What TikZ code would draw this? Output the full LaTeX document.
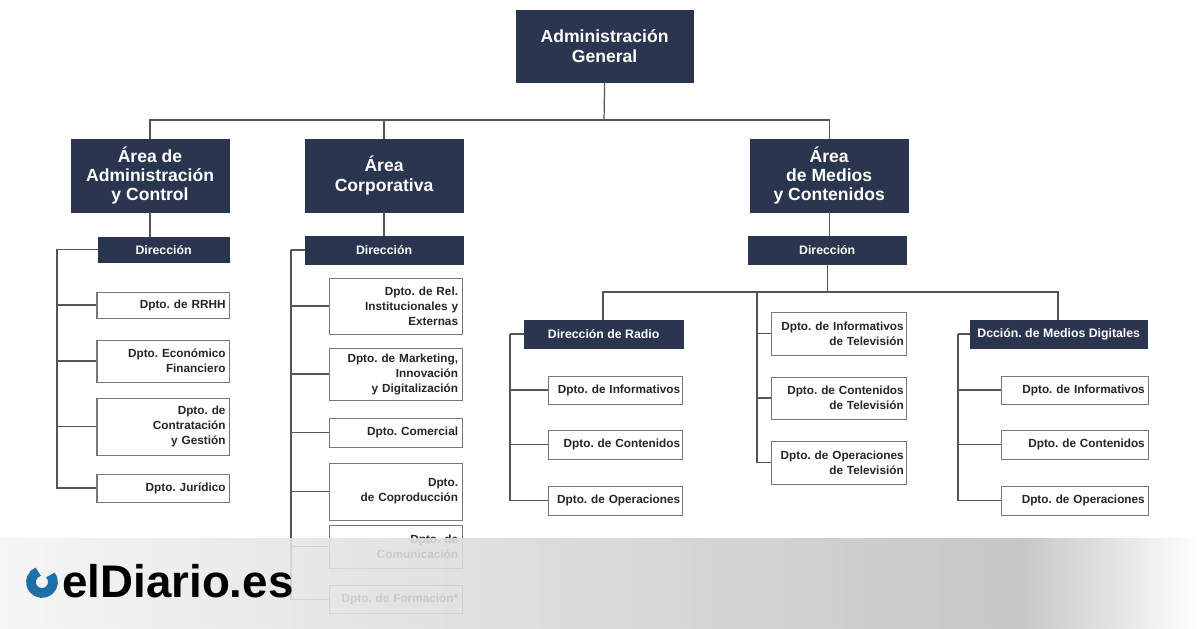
\documentclass[tikz,border=0pt]{standalone}
\usepackage{fontspec}
\setmainfont{Liberation Sans}
\usetikzlibrary{positioning}
\definecolor{navy}{HTML}{2A3650}
\definecolor{linec}{HTML}{555555}
\definecolor{blueo}{HTML}{1E6FA8}
\tikzset{
  darkbox/.style={draw=navy, fill=navy, text=white, font=\bfseries\fontsize{10}{11}\selectfont, align=center, inner sep=0pt},
  dirbox/.style={darkbox, font=\bfseries\fontsize{7}{8}\selectfont},
  deptbox/.style={draw=linec!80, line width=0.6pt, fill=white, text=black!85, font=\bfseries\fontsize{6.7}{8.5}\selectfont, align=right, inner sep=0pt, text width=#1},
  deptbox/.default=2.4cm,
  link/.style={draw=linec, line width=0.7pt}
}
\frenchspacing
\hyphenpenalty=10000
\newcommand{\boxat}[7]{% name style x1 y1 x2 y2 text
  \node[#2, minimum width={(#5-#3)*0.02cm}, minimum height={(#6-#4)*0.02cm}] (#1) at ({(#3+#5)/2*0.02},{-(#4+#6)/2*0.02}) {#7};}
\begin{document}
\begin{tikzpicture}
\useasboundingbox (0,0) rectangle (24,-12.56);
\fill[white] (0,0) rectangle (24,-12.56);

% top levels
\boxat{gen}{darkbox}{516}{10}{693}{82}{Administración\\General}
\boxat{adm}{darkbox}{71}{139}{229}{212}{Área de\\Administración\\y Control}
\boxat{corp}{darkbox}{305}{139}{463}{212}{Área\\Corporativa}
\boxat{med}{darkbox}{750}{139}{908}{212}{Área\\de Medios\\y Contenidos}
\coordinate (bus) at (12.08,-2.4);
\draw[link] (gen.south) -- (bus);
\draw[link] (adm.north) |- (bus) -| (med.north);
\draw[link] (corp.north) -- (corp.north |- bus);

% direcciones
\boxat{dadm}{dirbox}{98}{237}{229}{262}{Dirección}
\boxat{dcorp}{dirbox}{305}{236}{463}{264}{Dirección}
\boxat{dmed}{dirbox}{748}{236}{906}{264}{Dirección}
\draw[link] (adm.south) -- (adm.south |- dadm.north);
\draw[link] (corp.south) -- (dcorp.north);
\draw[link] (med.south) -- (med.south |- dmed.north);

% area de administracion
\boxat{rrhh}{deptbox=2.5cm}{97}{292}{229}{318}{Dpto. de RRHH}
\boxat{econ}{deptbox=2.5cm}{97}{340}{229}{382}{Dpto. Económico\\Financiero}
\boxat{contr}{deptbox=2.5cm}{97}{398}{229}{455}{Dpto. de\\Contratación\\y Gestión}
\boxat{jur}{deptbox=2.5cm}{97}{474}{229}{502}{Dpto. Jurídico}
\coordinate (ladm) at (1.14,-5);
\draw[link] (dadm.west) -| (ladm) -- (ladm |- jur.west) -- (jur.west);
\foreach \b in {rrhh,econ,contr} \draw[link] (\b.west) -- (\b.west -| ladm);

% area corporativa
\boxat{rel}{deptbox=2.5cm}{329}{278}{462}{334}{Dpto. de Rel.\\Institucionales y\\Externas}
\boxat{mkt}{deptbox=2.5cm}{329}{348}{462}{400}{Dpto. de Marketing,\\Innovación\\y Digitalización}
\boxat{com}{deptbox=2.5cm}{329}{418}{462}{447}{Dpto. Comercial}
\boxat{cop}{deptbox=2.5cm}{329}{463}{462}{520}{Dpto.\\de Coproducción}
\boxat{comu}{deptbox=2.5cm}{329}{525}{462}{568}{Dpto. de\\Comunicación}
\boxat{form}{deptbox=2.5cm}{329}{585}{462}{613}{Dpto. de Formación*}
\coordinate (lcorp) at (5.82,-5);
\draw[link] (dcorp.west) -| (lcorp) -- (lcorp |- form.west) -- (form.west);
\foreach \b in {rel,mkt,com,cop,comu} \draw[link] (\b.west) -- (\b.west -| lcorp);

% area de medios
\boxat{radio}{dirbox}{524}{320}{683}{348}{Dirección de Radio}
\boxat{itv}{deptbox=2.6cm}{771}{312}{906}{355}{Dpto. de Informativos\\de Televisión}
\boxat{ctv}{deptbox=2.6cm}{771}{377}{906}{419}{Dpto. de Contenidos\\de Televisión}
\boxat{otv}{deptbox=2.6cm}{771}{441}{906}{484}{Dpto. de Operaciones\\de Televisión}
\boxat{dig}{dirbox}{970}{320}{1147}{348}{Dcción. de Medios Digitales}
\coordinate (mbus) at (16.54,-5.84);
\coordinate (ltv) at (15.14,-5.84);
\draw[link] (dmed.south) -- (dmed.south |- mbus);
\draw[link] (radio.north -| 12.06,0) |- (mbus) -| (dig.north -| 21.16,0);
\draw[link] (ltv) -- (ltv |- otv.west) -- (otv.west);
\foreach \b in {itv,ctv} \draw[link] (\b.west) -- (\b.west -| ltv);

\boxat{rinf}{deptbox=2.6cm}{548}{376}{682}{404}{Dpto. de Informativos}
\boxat{rcon}{deptbox=2.6cm}{548}{430}{682}{459}{Dpto. de Contenidos}
\boxat{rope}{deptbox=2.6cm}{548}{486}{682}{515}{Dpto. de Operaciones}
\coordinate (lrad) at (10.2,-6.68);
\draw[link] (lrad) -- (lrad |- rope.west) -- (rope.west);
\foreach \b in {rinf,rcon} \draw[link] (\b.west) -- (\b.west -| lrad);
\draw[link] (radio.west) -- (radio.west -| lrad);

\boxat{dinf}{deptbox=2.8cm}{1001}{376}{1148}{404}{Dpto. de Informativos}
\boxat{dcon}{deptbox=2.8cm}{1001}{430}{1148}{459}{Dpto. de Contenidos}
\boxat{dope}{deptbox=2.8cm}{1001}{486}{1148}{515}{Dpto. de Operaciones}
\coordinate (ldig) at (19.16,-6.68);
\draw[link] (ldig) -- (ldig |- dope.west) -- (dope.west);
\foreach \b in {dinf,dcon} \draw[link] (\b.west) -- (\b.west -| ldig);
\draw[link] (dig.west) -- (dig.west -| ldig);

% logo band
\shade[left color=gray!8, right color=gray!50, opacity=0.88] (0,-10.76) rectangle (20.4,-12.56);
\shade[left color=gray!50, right color=white, opacity=0.88] (20.4,-10.76) rectangle (24,-12.56);
\draw[blueo, line width=5.5pt] (0.84,-11.64) ++(40:0.22) arc (40:-250:0.22);
\node[anchor=west, font=\bfseries\fontsize{26}{26}\selectfont, inner sep=0pt] (logo) at (1.24,-11.62) {elDiario.es};
\end{tikzpicture}
\end{document}
